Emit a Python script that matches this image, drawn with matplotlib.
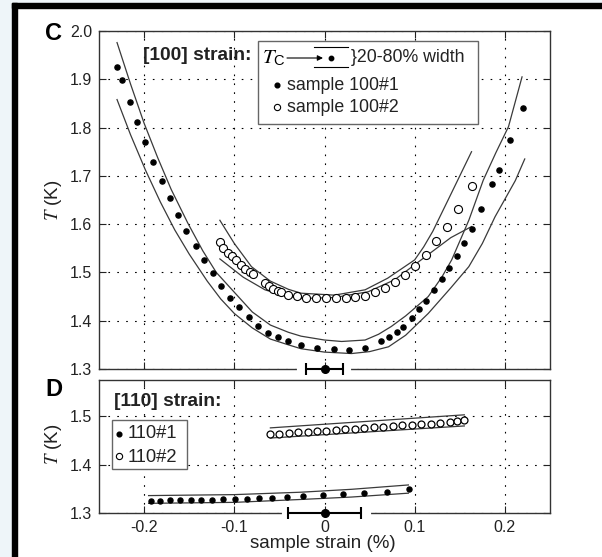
import matplotlib
matplotlib.use("Agg")
import matplotlib.pyplot as plt
from matplotlib.patches import Rectangle

plt.rcParams['font.family'] = ['Liberation Sans', 'DejaVu Sans']
plt.rcParams['mathtext.fontset'] = 'stix'

# ---- [100] strain, sample 100#1 (filled) ----
s1_x = [-0.230, -0.224, -0.216, -0.208, -0.1985, -0.190, -0.180, -0.171, -0.162, -0.153,
        -0.143, -0.134, -0.124, -0.115, -0.105, -0.095, -0.084, -0.074, -0.063, -0.052,
        -0.041, -0.026, -0.008, 0.010, 0.027, 0.045, 0.063, 0.0715, 0.080, 0.087,
        0.097, 0.105, 0.113, 0.1215, 0.130, 0.138, 0.147, 0.155, 0.164, 0.174,
        0.186, 0.193, 0.206, 0.220]
s1_t = [1.925, 1.898, 1.853, 1.811, 1.771, 1.728, 1.690, 1.655, 1.619, 1.586,
        1.555, 1.526, 1.499, 1.472, 1.448, 1.428, 1.408, 1.390, 1.375, 1.366,
        1.357, 1.350, 1.343, 1.341, 1.339, 1.343, 1.357, 1.367, 1.376, 1.388,
        1.406, 1.424, 1.441, 1.463, 1.486, 1.510, 1.534, 1.561, 1.590, 1.632,
        1.684, 1.713, 1.775, 1.840]
s1_hi_x = [-0.230, -0.215, -0.200, -0.185, -0.170, -0.1515, -0.135, -0.120, -0.100, -0.080,
           -0.060, -0.040, -0.026, 0.000, 0.019, 0.045, 0.060, 0.074, 0.090, 0.115,
           0.130, 0.141, 0.160, 0.176, 0.190, 0.204, 0.219]
s1_hi_t = [1.976, 1.890, 1.809, 1.738, 1.672, 1.602, 1.545, 1.500, 1.459, 1.418,
           1.391, 1.376, 1.368, 1.360, 1.357, 1.360, 1.372, 1.388, 1.410, 1.450,
           1.490, 1.526, 1.608, 1.691, 1.748, 1.802, 1.905]
s1_lo_x = [-0.230, -0.215, -0.1985, -0.182, -0.166, -0.150, -0.130, -0.115, -0.100, -0.080,
           -0.060, -0.040, -0.026, 0.000, 0.030, 0.050, 0.071, 0.090, 0.115, 0.140,
           0.160, 0.175, 0.189, 0.2115, 0.222]
s1_lo_t = [1.858, 1.785, 1.712, 1.646, 1.588, 1.538, 1.482, 1.445, 1.415, 1.385,
           1.362, 1.350, 1.342, 1.335, 1.332, 1.336, 1.346, 1.370, 1.415, 1.468,
           1.512, 1.560, 1.615, 1.690, 1.735]

# ---- [100] strain, sample 100#2 (open) ----
s2_x = [-0.116, -0.112, -0.107, -0.103, -0.098, -0.093, -0.088, -0.083, -0.079, -0.066,
        -0.0615, -0.057, -0.052, -0.048, -0.040, -0.030, -0.020, -0.009, 0.002, 0.013,
        0.024, 0.034, 0.045, 0.056, 0.067, 0.0785, 0.0896, 0.1007, 0.113, 0.124,
        0.136, 0.1485, 0.163]
s2_t = [1.562, 1.551, 1.541, 1.534, 1.526, 1.516, 1.508, 1.500, 1.496, 1.479,
        1.472, 1.466, 1.461, 1.459, 1.453, 1.451, 1.448, 1.448, 1.448, 1.448,
        1.448, 1.449, 1.452, 1.459, 1.468, 1.480, 1.495, 1.514, 1.537, 1.565,
        1.595, 1.631, 1.680]
s2_hi_x = [-0.116, -0.100, -0.081, -0.060, -0.040, -0.026, 0.011, 0.045, 0.070, 0.100,
           0.110, 0.120, 0.137, 0.163]
s2_hi_t = [1.608, 1.560, 1.512, 1.482, 1.465, 1.457, 1.453, 1.464, 1.488, 1.526,
           1.553, 1.585, 1.650, 1.750]
s2_lo_x = [-0.116, -0.090, -0.066, -0.045, -0.026, 0.011, 0.0485, 0.078, 0.110, 0.140, 0.163]
s2_lo_t = [1.528, 1.490, 1.464, 1.452, 1.446, 1.448, 1.460, 1.485, 1.530, 1.572, 1.595]

# ---- [110] strain, 110#1 (filled) ----
d1_x = [-0.192, -0.182, -0.171, -0.160, -0.1485, -0.1367, -0.1244, -0.112, -0.0997, -0.0859,
        -0.0726, -0.058, -0.0414, -0.0237, -0.0015, 0.0207, 0.044, 0.069, 0.0937]
d1_t = [1.325, 1.325, 1.326, 1.326, 1.327, 1.327, 1.327, 1.328, 1.328, 1.329,
        1.330, 1.331, 1.333, 1.335, 1.337, 1.339, 1.342, 1.344, 1.349]
d1_hi_x = [-0.195, -0.100, -0.026, 0.030, 0.093]
d1_hi_t = [1.336, 1.338, 1.343, 1.349, 1.358]
d1_lo_x = [-0.195, -0.100, -0.026, 0.030, 0.093]
d1_lo_t = [1.320, 1.322, 1.328, 1.333, 1.341]

# ---- [110] strain, 110#2 (open) ----
d2_x = [-0.060, -0.050, -0.039, -0.029, -0.018, -0.008, 0.002, 0.013, 0.023, 0.034,
        0.044, 0.055, 0.065, 0.076, 0.086, 0.097, 0.107, 0.118, 0.128, 0.139,
        0.147, 0.155]
d2_t = [1.463, 1.464, 1.465, 1.467, 1.468, 1.469, 1.470, 1.471, 1.473, 1.474,
        1.475, 1.477, 1.478, 1.479, 1.481, 1.482, 1.484, 1.485, 1.487, 1.488,
        1.490, 1.492]
d2_hi_x = [-0.060, 0.155]
d2_hi_t = [1.476, 1.503]
d2_lo_x = [-0.060, 0.155]
d2_lo_t = [1.455, 1.480]

# typical transition widths drawn at the bottom of each panel
c_err = 0.02
d_err = 0.04

x_ticks = [-0.2, -0.1, 0, 0.1, 0.2]
x_ticklabels = ['-0.2', '-0.1', '0', '0.1', '0.2']
c_yticks = [1.3, 1.4, 1.5, 1.6, 1.7, 1.8, 1.9, 2.0]
c_yticklabels = ['1.3', '1.4', '1.5', '1.6', '1.7', '1.8', '1.9', '2.0']
d_yticks = [1.3, 1.4, 1.5]
d_yticklabels = ['1.3', '1.4', '1.5']

W, H = 602, 557
fig = plt.figure(figsize=(W / 100, H / 100), dpi=100)
fig.patch.set_facecolor('white')

# page frame
fig.patches.append(Rectangle((0, 0), 12 / W, 1, transform=fig.transFigure, color='#eef5f9', zorder=0))
fig.patches.append(Rectangle((0, 1 - 3 / H), 1, 3 / H, transform=fig.transFigure, color='#eef5f9', zorder=0))
fig.patches.append(Rectangle((12 / W, 0), 5 / W, 1 - 3 / H, transform=fig.transFigure, color='black', zorder=1))
fig.patches.append(Rectangle((12 / W, 1 - 8 / H), 1, 5 / H, transform=fig.transFigure, color='black', zorder=1))

L, R = 99, 550
axc = fig.add_axes([L / W, 1 - 369 / H, (R - L) / W, 338 / H])
axd = fig.add_axes([L / W, 1 - 513 / H, (R - L) / W, 133 / H])

band_kw = dict(color='#3a3a3a', lw=0.9)
grid_kw = dict(color='black', lw=0.8, linestyle=(0, (1.5, 6.5)))


def style(ax, yticks, ylabels, show_x):
    ax.set_xlim(-0.25, 0.25)
    ax.set_xticks(x_ticks)
    ax.set_yticks(yticks)
    ax.set_yticklabels(ylabels)
    if show_x:
        ax.set_xticklabels(x_ticklabels)
    else:
        ax.set_xticklabels([])
    ax.tick_params(direction='in', length=5, width=0.8, top=True, right=True,
                   labelsize=11.5, pad=5, colors='#222222')
    ax.grid(True, **grid_kw)
    for s in ax.spines.values():
        s.set_linewidth(1.0)
        s.set_color('#333333')


# ---- panel C ----
axc.plot(s1_hi_x, s1_hi_t, **band_kw)
axc.plot(s1_lo_x, s1_lo_t, **band_kw)
axc.plot(s2_hi_x, s2_hi_t, **band_kw)
axc.plot(s2_lo_x, s2_lo_t, **band_kw)
axc.plot(s1_x, s1_t, 'o', color='black', ms=3.7, mec='black')
axc.plot(s2_x, s2_t, 'o', mfc='white', mec='black', ms=5.8, mew=0.8)
axc.set_ylim(1.3, 2.0)
style(axc, c_yticks, c_yticklabels, False)

axc.plot([-0.028, 0.027], [1.3, 1.3], color='white', lw=3, clip_on=False, zorder=5)
eb = axc.errorbar([0], [1.3], xerr=[c_err], fmt='o', color='black', ms=5.5,
                  capsize=4.5, elinewidth=1.5, capthick=1.5, zorder=6)
for art in eb.lines[0:1] + eb.lines[1] + eb.lines[2]:
    art.set_clip_on(False)


def cpos(px, py):
    return ((px - L) / (R - L), (369 - py) / 338)


axc.text(*cpos(45, 33), 'C', transform=axc.transAxes, fontsize=17, fontweight='bold',
         ha='left', va='center', clip_on=False)
axc.text(*cpos(143, 56), '[100] strain:', transform=axc.transAxes, fontsize=13.8,
         fontweight='bold', ha='left', va='center', color='#222222')
axc.text(*cpos(54, 200), r'$T$ (K)', transform=axc.transAxes, fontsize=13.5,
         rotation=90, ha='center', va='center', color='#222222')

# legend box for panel C
bx0, by0 = cpos(258, 124)
bx1, by1 = cpos(478, 41)
axc.add_patch(Rectangle((bx0, by0), bx1 - bx0, by1 - by0, transform=axc.transAxes,
                        facecolor='white', edgecolor='#666666', lw=1.0, zorder=7))
axc.text(*cpos(262, 58), r'$T_{\mathregular{C}}$', transform=axc.transAxes, fontsize=15,
         ha='left', va='center', zorder=8)
axc.annotate('', xy=cpos(323, 58), xytext=cpos(287, 58), xycoords='axes fraction',
             textcoords='axes fraction', zorder=8,
             arrowprops=dict(arrowstyle='-|>', lw=0.8, color='black', mutation_scale=8,
                             shrinkA=0, shrinkB=0))
for py in (47, 67):
    xa, ya = cpos(314, py)
    xb, _ = cpos(348, py)
    axc.plot([xa, xb], [ya, ya], transform=axc.transAxes, color='black', lw=0.8, zorder=8)
axc.plot(*cpos(331, 58), 'o', transform=axc.transAxes, color='black', ms=3.2, zorder=8)
axc.text(*cpos(351, 57), '}20-80% width', transform=axc.transAxes, fontsize=12.8,
         ha='left', va='center', zorder=8, color='#222222')
axc.plot(*cpos(277, 85), 'o', transform=axc.transAxes, color='black', ms=3.4, zorder=8)
axc.text(*cpos(287, 85), 'sample 100#1', transform=axc.transAxes, fontsize=12.8,
         ha='left', va='center', zorder=8, color='#222222')
axc.plot(*cpos(277, 107), 'o', transform=axc.transAxes, mfc='white', mec='black',
         ms=4.5, mew=0.8, zorder=8)
axc.text(*cpos(287, 108), 'sample 100#2', transform=axc.transAxes, fontsize=12.8,
         ha='left', va='center', zorder=8, color='#222222')

# ---- panel D ----
axd.plot(d1_hi_x, d1_hi_t, **band_kw)
axd.plot(d1_lo_x, d1_lo_t, **band_kw)
axd.plot(d2_hi_x, d2_hi_t, **band_kw)
axd.plot(d2_lo_x, d2_lo_t, **band_kw)
axd.plot(d1_x, d1_t, 'o', color='black', ms=3.6)
axd.plot(d2_x, d2_t, 'o', mfc='white', mec='black', ms=5.0, mew=0.9)
axd.set_ylim(1.3, 1.575)
style(axd, d_yticks, d_yticklabels, True)

axd.plot([-0.045, 0.049], [1.3, 1.3], color='white', lw=3, clip_on=False, zorder=5)
eb = axd.errorbar([0], [1.3], xerr=[d_err], fmt='o', color='black', ms=5.5,
                  capsize=4.5, elinewidth=1.5, capthick=1.5, zorder=6)
for art in eb.lines[0:1] + eb.lines[1] + eb.lines[2]:
    art.set_clip_on(False)


def dpos(px, py):
    return ((px - L) / (R - L), (513 - py) / 133)


axd.text(*dpos(45, 389), 'D', transform=axd.transAxes, fontsize=17, fontweight='bold',
         ha='left', va='center', clip_on=False)
axd.text(*dpos(114, 401), '[110] strain:', transform=axd.transAxes, fontsize=13.8,
         fontweight='bold', ha='left', va='center', color='#222222')
axd.text(*dpos(54, 444), r'$T$ (K)', transform=axd.transAxes, fontsize=13.5,
         rotation=90, ha='center', va='center', color='#222222')
axd.text(*dpos(323, 543), 'sample strain (%)', transform=axd.transAxes, fontsize=13.5,
         ha='center', va='center', color='#222222')

ex0, ey0 = dpos(112, 469)
ex1, ey1 = dpos(187, 420)
axd.add_patch(Rectangle((ex0, ey0), ex1 - ex0, ey1 - ey0, transform=axd.transAxes,
                        facecolor='white', edgecolor='#666666', lw=1.0, zorder=7))
axd.plot(*dpos(119, 434), 'o', transform=axd.transAxes, color='black', ms=3.4, zorder=8)
axd.text(*dpos(128, 434), '110#1', transform=axd.transAxes, fontsize=13.2,
         ha='left', va='center', zorder=8, color='#222222')
axd.plot(*dpos(119, 456), 'o', transform=axd.transAxes, mfc='white', mec='black',
         ms=4.5, mew=0.8, zorder=8)
axd.text(*dpos(128, 457), '110#2', transform=axd.transAxes, fontsize=13.2,
         ha='left', va='center', zorder=8, color='#222222')

fig.savefig('out.png', dpi=100)
